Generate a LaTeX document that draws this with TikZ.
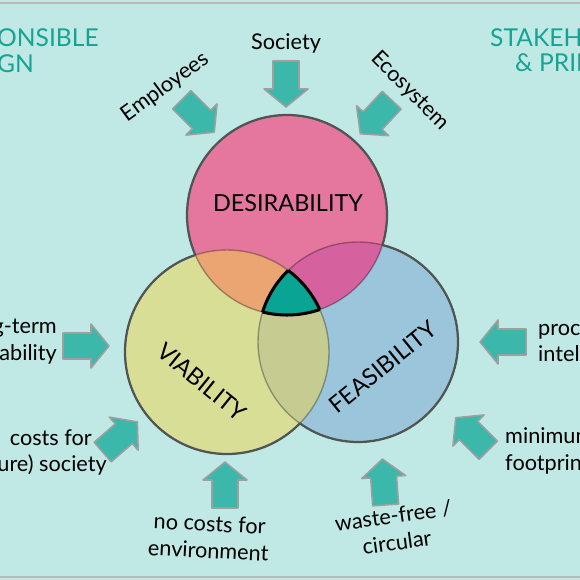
\documentclass[tikz,border=0pt]{standalone}
\usepackage{fontspec}
\setmainfont{Lato}
\usetikzlibrary{positioning}

\definecolor{bgTeal}{RGB}{192,232,228}
\definecolor{ttlTeal}{RGB}{22,163,148}
\definecolor{arrTeal}{RGB}{60,184,171}
\definecolor{desPink}{RGB}{229,118,158}
\definecolor{viaYellow}{RGB}{216,222,150}
\definecolor{feaBlue}{RGB}{155,197,219}
\definecolor{dvOrange}{RGB}{234,165,115}
\definecolor{dfMagenta}{RGB}{213,98,158}
\definecolor{vfOlive}{RGB}{198,203,145}
\definecolor{coreTeal}{RGB}{8,165,148}
\definecolor{rimGray}{RGB}{80,85,83}

\tikzset{
  push/.pic={
    \draw[draw=gray!75, line width=1.3pt, line join=round, fill=arrTeal]
      (-23,-13) -- (5,-13) -- (5,-22) -- (23,0) -- (5,22) -- (5,13) -- (-23,13) -- cycle;
  },
  driver/.style={font=\fontsize{18.5}{23}\selectfont, align=center, inner sep=0pt},
  heading/.style={font=\fontsize{21}{26}\selectfont, text=ttlTeal, inner sep=0pt},
  lens/.style={font=\fontsize{20}{24}\selectfont, inner sep=0pt},
  rim/.style={draw=rimGray, line width=1.9pt},
  seam/.style={draw=black, opacity=0.3, line width=1.2pt},
  core/.style={draw=black, line width=2.6pt}
}

\begin{document}
\begin{tikzpicture}[x=0.3mm, y=-0.3mm]
  \useasboundingbox (0,0) rectangle (580,580);
  \clip (0,0) rectangle (580,580);
  \fill[bgTeal] (0,0) rectangle (580,580);
  \draw[gray!55, line width=2.5pt] (0,3) -- (580,3);
  \draw[gray!55, line width=2.5pt] (0,577) -- (580,577);

  % circle centres
  \coordinate (des) at (287,215);
  \coordinate (via) at (227,352);
  \coordinate (fea) at (358,342);

  % Circles
  \fill[viaYellow] (via) circle [radius=102];
  \fill[feaBlue] (fea) circle [radius=100];
  \fill[desPink] (des) circle [radius=100];

  % Pairwise overlaps
  \begin{scope}
    \clip (des) circle [radius=100];
    \fill[dvOrange] (via) circle [radius=102];
    \fill[dfMagenta] (fea) circle [radius=100];
  \end{scope}
  \begin{scope}
    \clip (via) circle [radius=102];
    \fill[vfOlive] (fea) circle [radius=100];
  \end{scope}

  % Inner seams
  \draw[seam] (via) circle [radius=102];
  \draw[seam] (fea) circle [radius=100];
  \draw[seam] (des) circle [radius=100];

  % Outer rims
  \begin{scope}[even odd rule]
    \clip (0,0) rectangle (580,580) (fea) circle [radius=100] (des) circle [radius=100];
    \draw[rim] (via) circle [radius=102];
  \end{scope}
  \begin{scope}[even odd rule]
    \clip (0,0) rectangle (580,580) (via) circle [radius=102] (des) circle [radius=100];
    \draw[rim] (fea) circle [radius=100];
  \end{scope}
  \begin{scope}[even odd rule]
    \clip (0,0) rectangle (580,580) (via) circle [radius=102] (fea) circle [radius=100];
    \draw[rim] (des) circle [radius=100];
  \end{scope}

  % Core where all three meet
  \begin{scope}
    \clip (des) circle [radius=100];
    \clip (via) circle [radius=102];
    \clip (fea) circle [radius=100];
    \fill[coreTeal] (0,0) rectangle (580,580);
  \end{scope}
  \begin{scope}
    \clip (via) circle [radius=102];
    \clip (fea) circle [radius=100];
    \draw[core] (des) circle [radius=100];
  \end{scope}
  \begin{scope}
    \clip (des) circle [radius=100];
    \clip (fea) circle [radius=100];
    \draw[core] (via) circle [radius=102];
  \end{scope}
  \begin{scope}
    \clip (des) circle [radius=100];
    \clip (via) circle [radius=102];
    \draw[core] (fea) circle [radius=100];
  \end{scope}

  % Circle labels
  \node[lens] (desLabel) at (288,203) {DESIRABILITY};
  \node[lens, rotate=-39] (viaLabel) at (202,382) {VIABILITY};
  \node[lens, rotate=39] (feaLabel) at (383,367) {FEASIBILITY};

  % Headings
  \node[heading, anchor=west] (headL1) at (-3,38) {ONSIBLE};
  \node[heading, anchor=west] (headL2) at (-3,64) {GN};
  \node[heading, anchor=west] (headR1) at (490,38) {STAKEHO};
  \node[heading, anchor=west] (headR2) at (515,63) {\& PRIN};

  % Arrows
  \pic[rotate=-90] (aSociety) at (286,84) {push};
  \pic[rotate=-45] (aEmployees) at (198,116) {push};
  \pic[rotate=-133] (aEcosystem) at (376,117) {push};
  \pic (aLongterm) at (86,346) {push};
  \pic[rotate=41] (aFuture) at (120,437) {push};
  \pic[rotate=90] (aEnvironment) at (225,485) {push};
  \pic[rotate=94] (aWaste) at (384,482) {push};
  \pic[rotate=135] (aFootprint) at (472,434) {push};
  \pic[rotate=180] (aProduct) at (503,342) {push};

  % Drivers
  \node[driver] (society) at (286,43) {Society};
  \node[driver, rotate=36] (employees) at (165,87) {Employees};
  \node[driver, rotate=-45] (ecosystem) at (410,91) {Ecosystem};
  \node[driver, anchor=east, align=right] (longterm) at (57,342) {g-term\\ability};
  \node[driver, anchor=east] (futureA) at (92,438) {costs for};
  \node[driver, anchor=east] (futureB) at (107,465) {ure) society};
  \node[driver, rotate=-3] (environment) at (209,537) {no costs for\\environment};
  \node[driver, rotate=8] (waste) at (395,529) {waste-free /\\circular};
  \node[driver, anchor=west, align=left] (product) at (538,343) {proc\\intel};
  \node[driver, anchor=west, align=left] (footprint) at (505,451) {minimum\\footprin};
\end{tikzpicture}
\end{document}
